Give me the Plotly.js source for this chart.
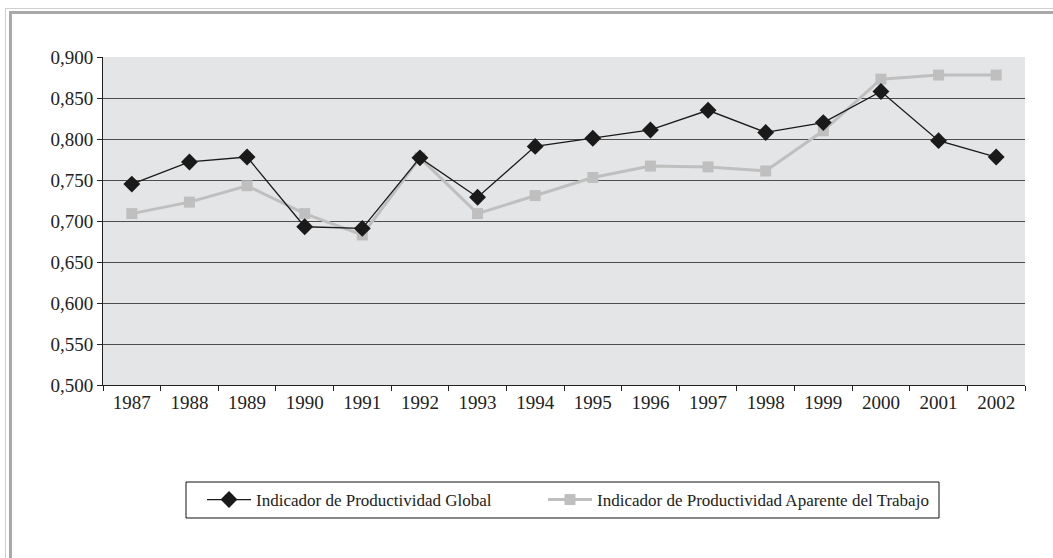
<!DOCTYPE html>
<html>
<head>
<meta charset="utf-8">
<script src="https://cdn.plot.ly/plotly-3.0.1.min.js"></script>
<style>
  html, body { margin: 0; padding: 0; background: #ffffff; }
  #wrap { position: relative; width: 1053px; height: 558px; overflow: hidden; }
  #chart { width: 1053px; height: 558px; }
  .frame-outer { position: absolute; left: 5px; top: 8px; width: 2000px; height: 2000px;
    border-left: 1px solid #cfcfcf; border-top: 1px solid #cfcfcf; pointer-events: none; }
  .frame-inner { position: absolute; left: 9px; top: 11px; width: 2000px; height: 2000px;
    border-left: 3px solid #a9a9a9; border-top: 3px solid #a9a9a9; pointer-events: none; }
</style>
</head>
<body>
<div id="wrap">
  <div id="chart"></div>
  <div class="frame-outer"></div>
  <div class="frame-inner"></div>
</div>
<script>
// Years on the category axis
const years = ["1987","1988","1989","1990","1991","1992","1993","1994",
               "1995","1996","1997","1998","1999","2000","2001","2002"];

// Indicador de Productividad Global
const globalIndex = [0.745, 0.772, 0.778, 0.693, 0.691, 0.777, 0.729, 0.791,
                     0.801, 0.811, 0.835, 0.808, 0.820, 0.858, 0.798, 0.778];

// Indicador de Productividad Aparente del Trabajo
const laborIndex = [0.709, 0.723, 0.743, 0.709, 0.683, 0.777, 0.709, 0.731,
                    0.753, 0.767, 0.766, 0.761, 0.810, 0.873, 0.878, 0.878];

const seriesNames = ["Indicador de Productividad Global",
                     "Indicador de Productividad Aparente del Trabajo"];

const serif = "Liberation Serif";
const W = 1053, H = 558;

// plot area in pixels: x 103..1025, y 57..385
const L = 103, R = 1025, T = 57, B = 385;
const px = x => (x - L) / (R - L);
const py = y => (B - y) / (B - T);
// container coordinates for the legends
const cx = x => x / W;
const cy = y => 1 - y / H;

const traces = [
  {
    x: years, y: laborIndex, name: seriesNames[1], type: "scatter", mode: "lines+markers",
    line: { color: "#bfbfbf", width: 3 },
    marker: { symbol: "square", size: 11, color: "#bfbfbf" },
    legend: "legend2"
  },
  {
    x: years, y: globalIndex, name: seriesNames[0], type: "scatter", mode: "lines+markers",
    line: { color: "#1a1a1a", width: 1.3 },
    marker: { symbol: "diamond", size: 13, color: "#1a1a1a" },
    legend: "legend"
  }
];

function legendAt(x, y) {
  return {
    orientation: "h", xref: "container", yref: "container",
    xanchor: "left", yanchor: "middle", x: cx(x), y: cy(y),
    bgcolor: "rgba(0,0,0,0)", borderwidth: 0, itemwidth: 44,
    font: { family: serif, size: 17, color: "#222" }
  };
}

const layout = {
  width: W, height: H,
  margin: { l: L, r: W - R, t: T, b: H - B, pad: 0 },
  paper_bgcolor: "rgba(0,0,0,0)",
  plot_bgcolor: "#e4e5e6",
  separators: ",.",
  showlegend: true,
  font: { family: serif, color: "#222" },
  xaxis: {
    type: "category", range: [-0.5, years.length - 0.5],
    showline: true, linecolor: "#222", linewidth: 1,
    ticks: "outside", tickson: "boundaries", ticklen: 5, tickcolor: "#222",
    showgrid: false,
    tickfont: { family: serif, size: 19, color: "#222" },
    fixedrange: true
  },
  yaxis: {
    range: [0.5, 0.9], dtick: 0.05, tick0: 0.5, tickformat: ".3f",
    showline: true, linecolor: "#222", linewidth: 1,
    ticks: "outside", ticklen: 5, tickcolor: "#222",
    showgrid: true, gridcolor: "#4d4d4d", gridwidth: 1,
    zeroline: false,
    tickfont: { family: serif, size: 19, color: "#222" },
    fixedrange: true
  },
  legend: legendAt(202, 500),
  legend2: legendAt(543, 500),
  shapes: [
    { type: "rect", xref: "paper", yref: "paper",
      x0: px(186), x1: px(939), y0: py(518), y1: py(482),
      line: { color: "#111", width: 1 }, fillcolor: "rgba(0,0,0,0)" }
  ]
};

Plotly.newPlot("chart", traces, layout, { displayModeBar: false, staticPlot: true });
</script>
</body>
</html>
